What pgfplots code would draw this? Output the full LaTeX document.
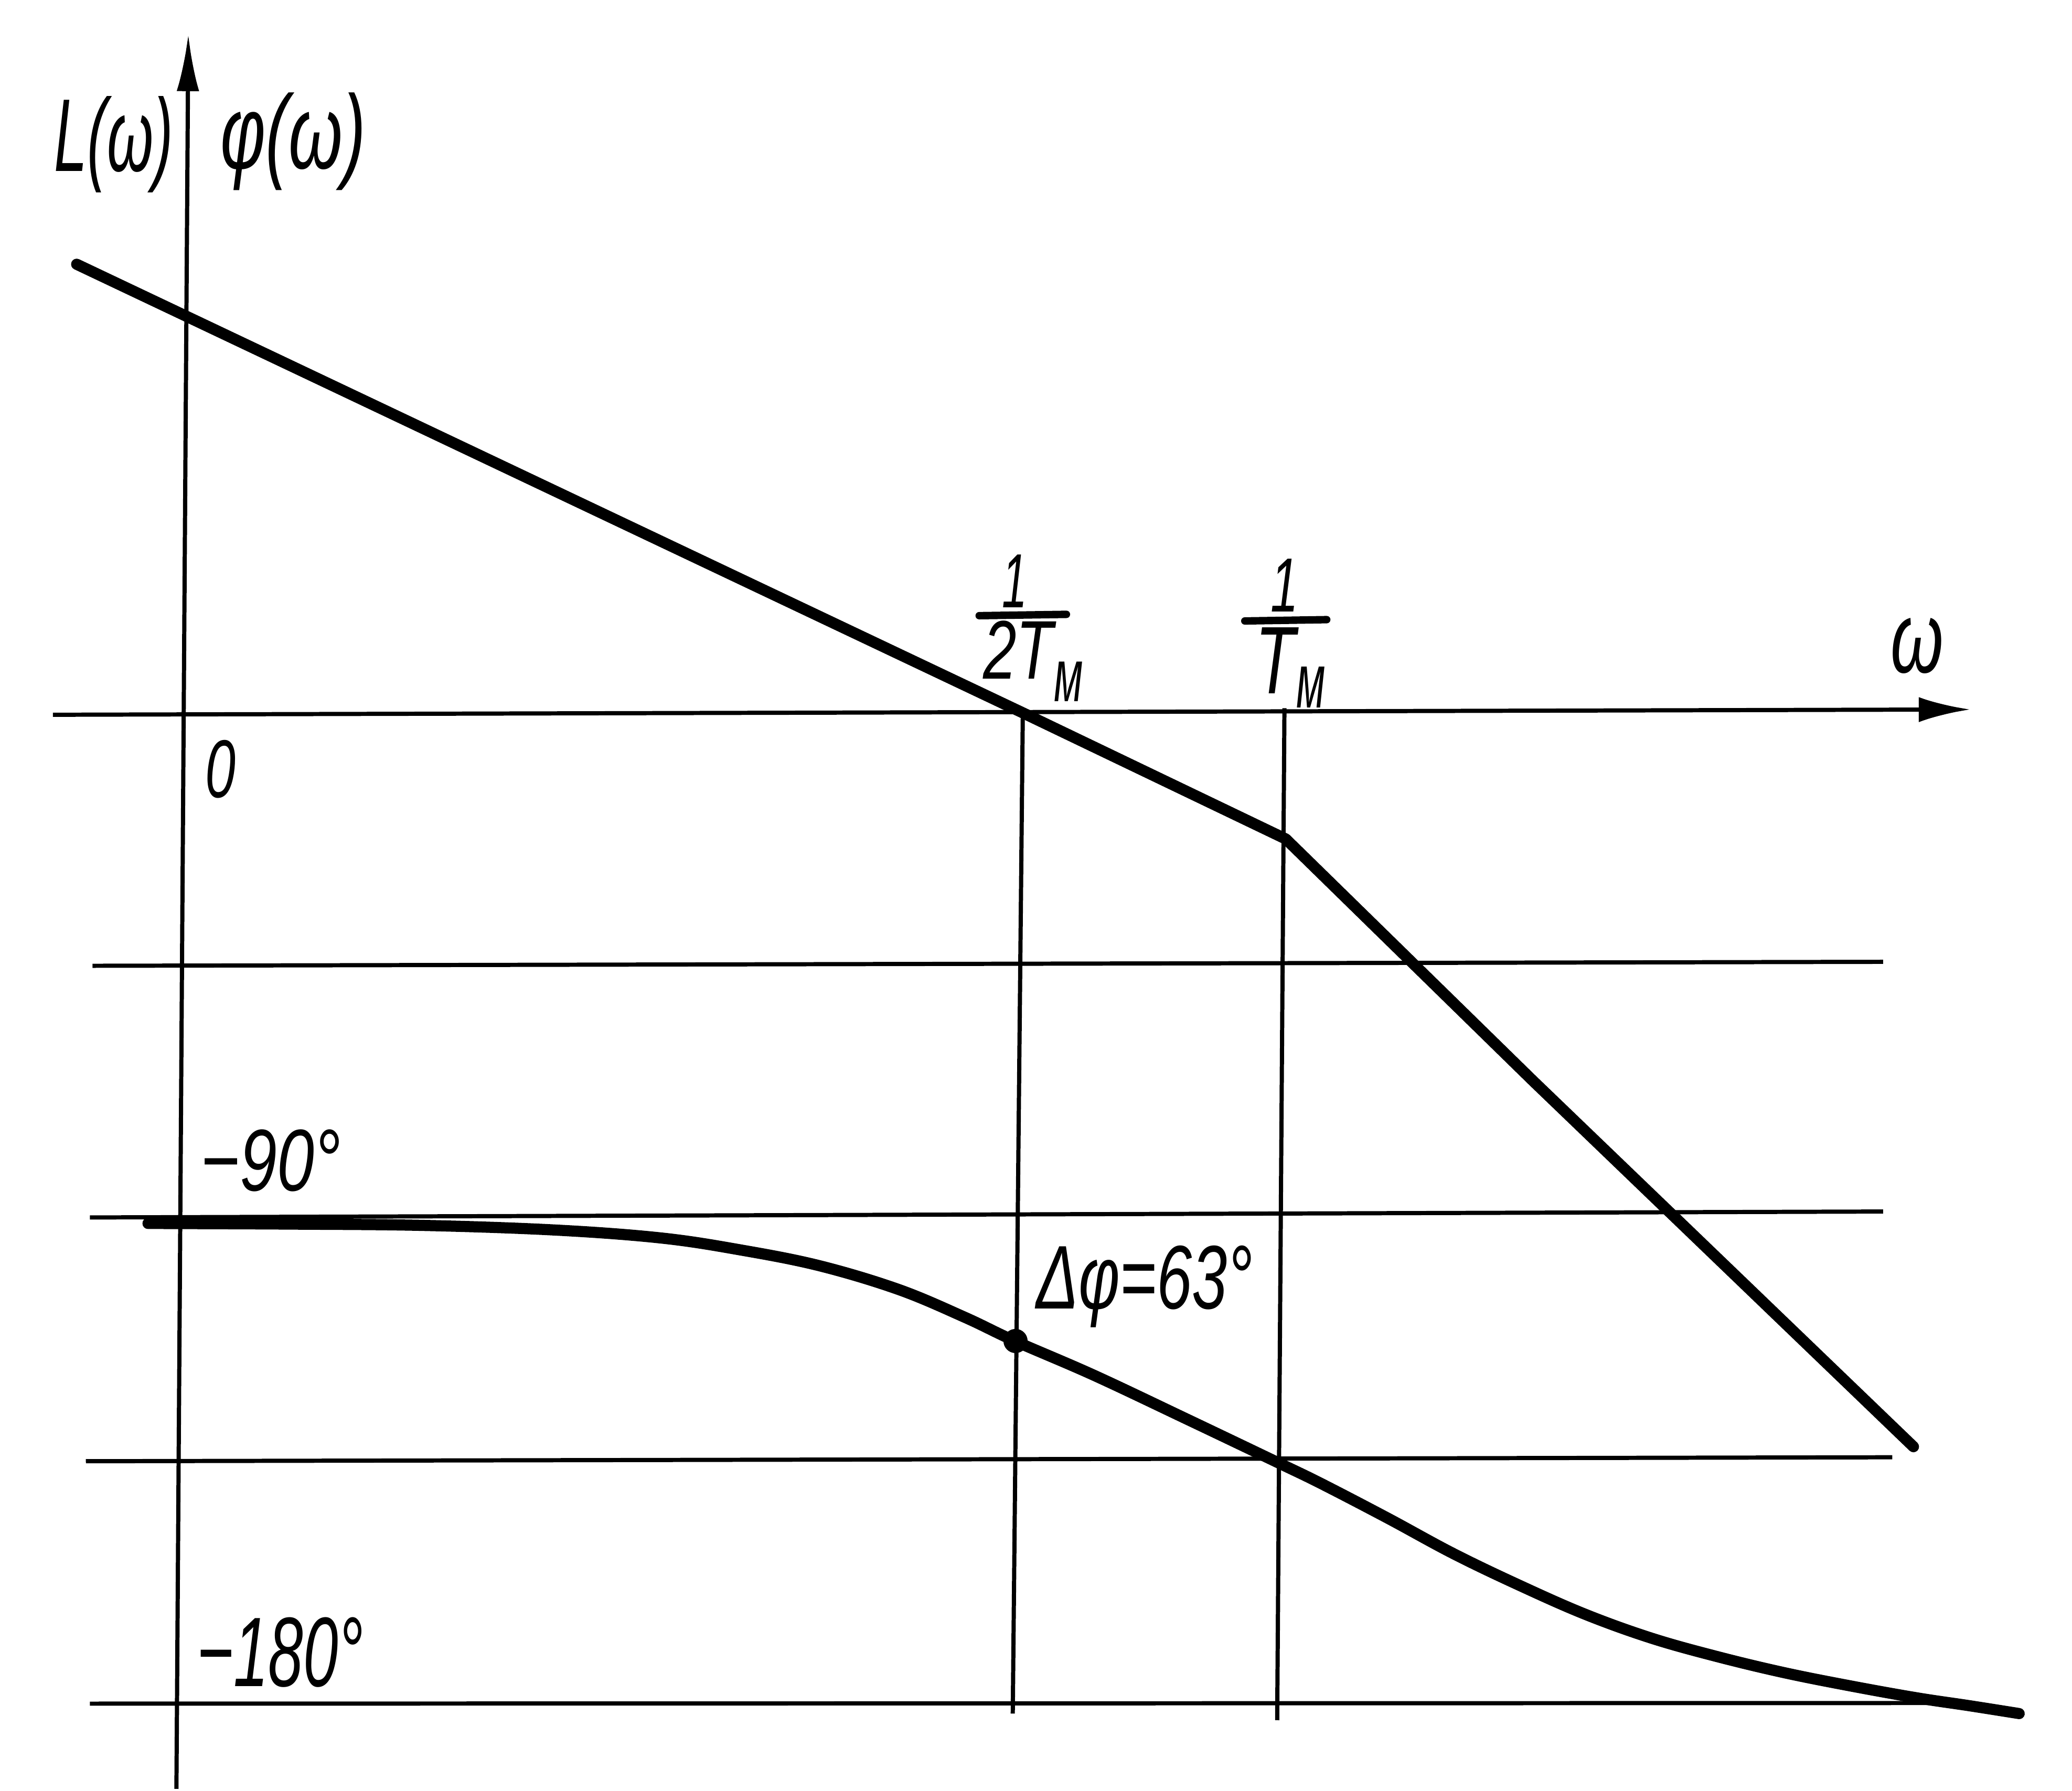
\documentclass[border=0pt]{standalone}
\usepackage{pgfplots}
\pgfplotsset{compat=1.18}
\usepackage{graphicx}
\usepackage{fontspec}
\setmainfont{Liberation Sans}
\usetikzlibrary{arrows.meta}
\newlength\pxu
\setlength\pxu{0.01cm}
\begin{document}
\begin{tikzpicture}
\begin{axis}[
  scale only axis, width=15.68cm, height=13.54cm,
  xmin=0, xmax=1568, ymin=0, ymax=1354, y dir=reverse,
  hide axis, clip=false,
  thin/.style={line width=0.9pt, black},
  thick/.style={line width=2.4pt, black, line cap=round, line join=round},
]
% frame (invisible) to fix the bounding box
\addplot[draw=none] coordinates {(0,0) (1568,1354)};
% vertical axis
\addplot[thin, -{Latex[length=0.43cm,width=0.17cm]}] coordinates {(133.5,1354) (142.5,26)};
% omega axis
\addplot[thin, -{Latex[length=0.39cm,width=0.19cm]}] coordinates {(40,541) (1491,537)};
% grid lines
\addplot[thin] coordinates {(70,731) (1425,728)};
\addplot[thin] coordinates {(68,921.5) (1425,917)};
\addplot[thin] coordinates {(65,1106) (1432,1103)};
\addplot[thin] coordinates {(68,1289.5) (1470,1289)};
% verticals
\addplot[thin] coordinates {(774,540) (766.4,1297)};
\addplot[thin] coordinates {(972,536) (966.5,1302)};
% L(omega)
\addplot[thick] coordinates {(58,200) (775,540) (973,635) (1160,818) (1448,1095)};
% phi(omega)
\addplot[thick, smooth, tension=0.6] coordinates {
 (112,926) (220,926.5) (320,927.5) (420,931) (500,937) (560,946) (620,958)
 (680,976) (730,997) (768,1015) (828,1041) (900,1075) (967,1107) (1000,1123)
 (1050,1149) (1100,1176) (1150,1200) (1200,1222) (1250,1240) (1300,1254)
 (1350,1266) (1400,1276) (1450,1285) (1490,1291) (1528,1297)};
% dot
\addplot[only marks, mark=*, mark size=2.4pt, black] coordinates {(768.5,1015)};
% fraction bars
\addplot[line width=1.6pt, black, line cap=round] coordinates {(741,466) (807,465)};
\addplot[line width=1.6pt, black, line cap=round] coordinates {(942,470) (1004,469)};
% labels
\node[inner sep=0pt] at (axis cs:86,109.5) {\resizebox*{90\pxu}{73\pxu}{\itshape L(ω)}};
\node[inner sep=0pt] at (axis cs:222,107) {\resizebox*{110\pxu}{74\pxu}{\itshape φ(ω)}};
\node[inner sep=0pt] at (axis cs:167,582) {\resizebox*{23\pxu}{44\pxu}{\itshape 0}};
\node[inner sep=0pt] at (axis cs:1451,489) {\resizebox*{40\pxu}{42\pxu}{\itshape ω}};
\node[inner sep=0pt] at (axis cs:768,440) {\resizebox*{19\pxu}{40\pxu}{\itshape 1}};
\node[inner sep=0pt] at (axis cs:770.5,492) {\resizebox*{53\pxu}{44\pxu}{\itshape 2T}};
\node[inner sep=0pt] at (axis cs:808.5,516) {\resizebox*{22\pxu}{30\pxu}{\itshape м}};
\node[inner sep=0pt] at (axis cs:972,443) {\resizebox*{21\pxu}{40\pxu}{\itshape 1}};
\node[inner sep=0pt] at (axis cs:965,500) {\resizebox*{30\pxu}{50\pxu}{\itshape T}};
\node[inner sep=0pt] at (axis cs:992,520) {\resizebox*{22\pxu}{31\pxu}{\itshape м}};
\node[inner sep=0pt] at (axis cs:205,878.5) {\resizebox*{106\pxu}{47\pxu}{\itshape −90°}};
\node[inner sep=0pt] at (axis cs:212,1250.5) {\resizebox*{126\pxu}{53\pxu}{\itshape −180°}};
\node[inner sep=0pt] at (axis cs:866,974) {\resizebox*{164\pxu}{62\pxu}{\itshape Δφ=63°}};
\end{axis}
\end{tikzpicture}
\end{document}
